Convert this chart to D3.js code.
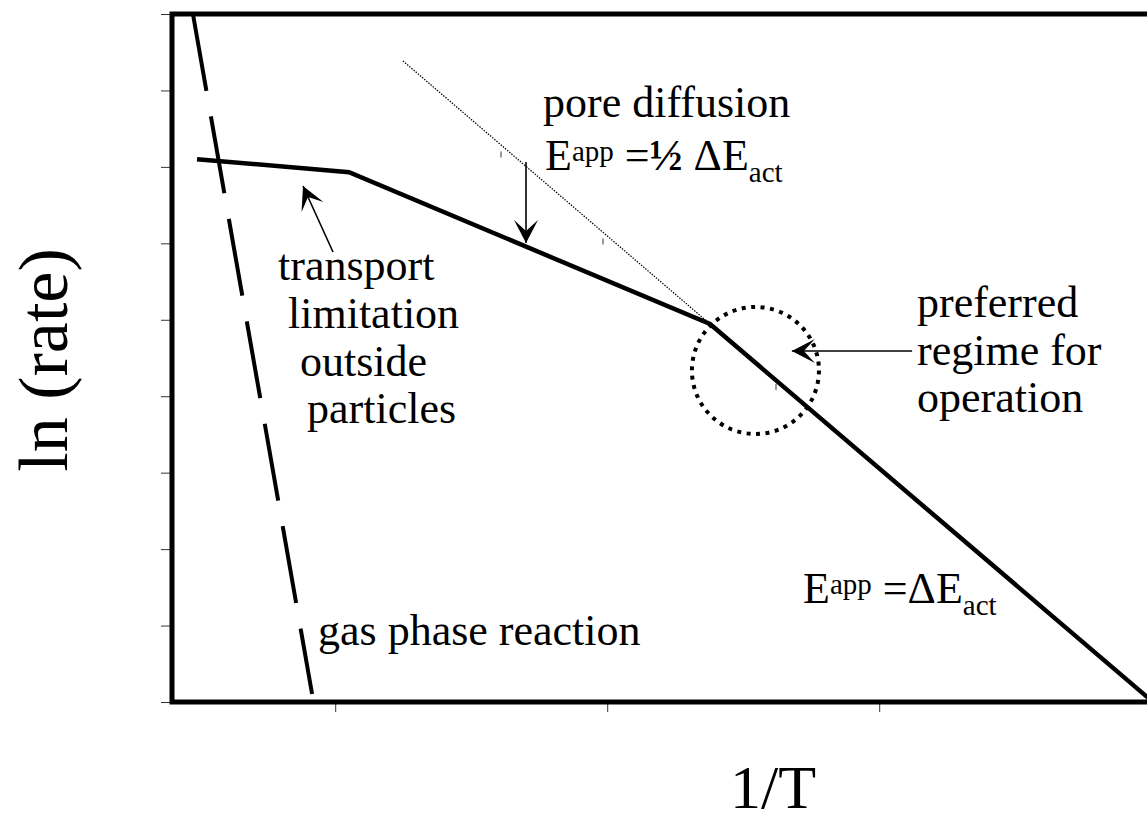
<!DOCTYPE html>
<html>
<head>
<meta charset="utf-8">
<script src="https://cdn.jsdelivr.net/npm/d3@7"></script>
<style>
  html, body { margin: 0; padding: 0; background: #fff; }
  svg { display: block; }
  text { font-family: "Liberation Serif", "Times New Roman", serif; fill: #000; }
</style>
</head>
<body>
<svg id="chart" width="1147" height="825"></svg>
<script>
// ---- data (data units: x = 1/T, y = ln(rate)) ----
const xTicks = [1, 2, 3];
const yTicks = [0, 1, 2, 3, 4, 5, 6, 7, 8, 9];
const gasPhase = [{x: 0.477, y: 9.0}, {x: 0.915, y: 0.105}];
const observedRate = [{x: 0.492, y: 7.10}, {x: 1.051, y: 6.93}, {x: 2.378, y: 4.945}, {x: 4.0, y: 0.02}];
const intrinsicRate = [{x: 1.249, y: 8.386}, {x: 2.8, y: 3.659}];
const markerPoints = [{x: 1.6096, y: 7.162}, {x: 1.9846, y: 6.024}, {x: 2.6206, y: 4.121}];
const arrows = [
  {from: {x: 1.7015, y: 7.064}, to: {x: 1.7015, y: 6.005}},
  {from: {x: 0.9919, y: 5.887}, to: {x: 0.8816, y: 6.750}},
  {from: {x: 3.121, y: 4.592}, to: {x: 2.679, y: 4.592}}
];
const regime = {x: 2.545, y: 4.337, rx: 0.2335, ry: 0.831};

const svg = d3.select("#chart");
const x = d3.scaleLinear().domain([0.4, 4.4]).range([172, 1260]);
const y = d3.scaleLinear().domain([0, 9]).range([702, 14]);

// arrow marker
const defs = svg.append("defs");
defs.append("marker")
  .attr("id", "head").attr("markerUnits", "userSpaceOnUse")
  .attr("viewBox", "-24 -13 26 26").attr("refX", 0).attr("refY", 0)
  .attr("markerWidth", 26).attr("markerHeight", 26).attr("orient", "auto")
  .append("path").attr("d", "M0,0 L-23,-12 L-12,0 L-23,12 Z").attr("fill", "#000");

// axes ticks (no labels)
const yAxis = svg.append("g").attr("transform", `translate(${x(0.4)},0)`)
  .call(d3.axisLeft(y).tickValues(yTicks).tickSize(11).tickFormat(""));
const xAxis = svg.append("g").attr("transform", `translate(0,${y(0)})`)
  .call(d3.axisBottom(x).tickValues(xTicks).tickSize(10).tickFormat(""));
[yAxis, xAxis].forEach(g => {
  g.select(".domain").remove();
  g.selectAll(".tick line").attr("stroke", "#333").attr("stroke-width", 1);
});

const line = d3.line().x(d => x(d.x)).y(d => y(d.y));

// intrinsic (thin dotted) line
svg.append("path").datum(intrinsicRate).attr("d", line)
  .attr("fill", "none").attr("stroke", "#000").attr("stroke-width", 1.3)
  .attr("stroke-dasharray", "1.4,1.4");

// small markers
svg.append("g").selectAll("line").data(markerPoints).join("line")
  .attr("x1", d => x(d.x)).attr("x2", d => x(d.x))
  .attr("y1", d => y(d.y) - 3).attr("y2", d => y(d.y) + 3)
  .attr("stroke", "#333").attr("stroke-width", 1);

// gas phase dashed line
svg.append("path").datum(gasPhase).attr("d", line)
  .attr("fill", "none").attr("stroke", "#000").attr("stroke-width", 4)
  .attr("stroke-dasharray", "78,26");

// observed rate line
svg.append("path").datum(observedRate).attr("d", line)
  .attr("fill", "none").attr("stroke", "#000").attr("stroke-width", 4.5)
  .attr("stroke-linejoin", "miter");

// regime circle
svg.append("ellipse")
  .attr("cx", x(regime.x)).attr("cy", y(regime.y))
  .attr("rx", x(regime.x + regime.rx) - x(regime.x))
  .attr("ry", y(regime.y) - y(regime.y + regime.ry))
  .attr("fill", "none").attr("stroke", "#000").attr("stroke-width", 4)
  .attr("stroke-dasharray", "4,5.5");

// arrows
svg.append("g").selectAll("line").data(arrows).join("line")
  .attr("x1", d => x(d.from.x)).attr("y1", d => y(d.from.y))
  .attr("x2", d => x(d.to.x)).attr("y2", d => y(d.to.y))
  .attr("stroke", "#000").attr("stroke-width", 1.6)
  .attr("marker-end", "url(#head)");

// frame
svg.append("rect")
  .attr("x", x(0.4)).attr("y", y(9))
  .attr("width", x(4.4) - x(0.4)).attr("height", y(0) - y(9))
  .attr("fill", "none").attr("stroke", "#000").attr("stroke-width", 5);

// ---- text ----
const FS = 44;
function simple(str, px, py, size) {
  svg.append("text").attr("x", px).attr("y", py).attr("font-size", size || FS).text(str);
}
simple("pore diffusion", 543, 117);
simple("transport", 278, 280);
simple("limitation", 288, 328);
simple("outside", 300, 376);
simple("particles", 307, 423);
simple("preferred", 917, 317);
simple("regime for", 917, 365);
simple("operation", 917, 412);
simple("gas phase reaction", 318, 645);

function equation(px, py, half) {
  const t = svg.append("text").attr("x", px).attr("y", py).attr("font-size", FS);
  t.append("tspan").text("E");
  t.append("tspan").attr("font-size", 29).attr("dy", -9).text("app");
  t.append("tspan").attr("dy", 9).text(" =");
  if (half) {
    t.append("tspan").attr("font-weight", "bold").text("½");
    t.append("tspan").text(" ΔE");
  } else {
    t.append("tspan").text("ΔE");
  }
  t.append("tspan").attr("font-size", 29).attr("dy", 12).text("act");
}
equation(545, 170, true);
equation(803, 603, false);

// axis titles
svg.append("text").attr("transform", "translate(67,360) rotate(-90)")
  .attr("text-anchor", "middle").attr("font-size", 70).text("ln (rate)");
svg.append("text").attr("x", 773).attr("y", 808)
  .attr("text-anchor", "middle").attr("font-size", 62).text("1/T");
</script>
</body>
</html>
